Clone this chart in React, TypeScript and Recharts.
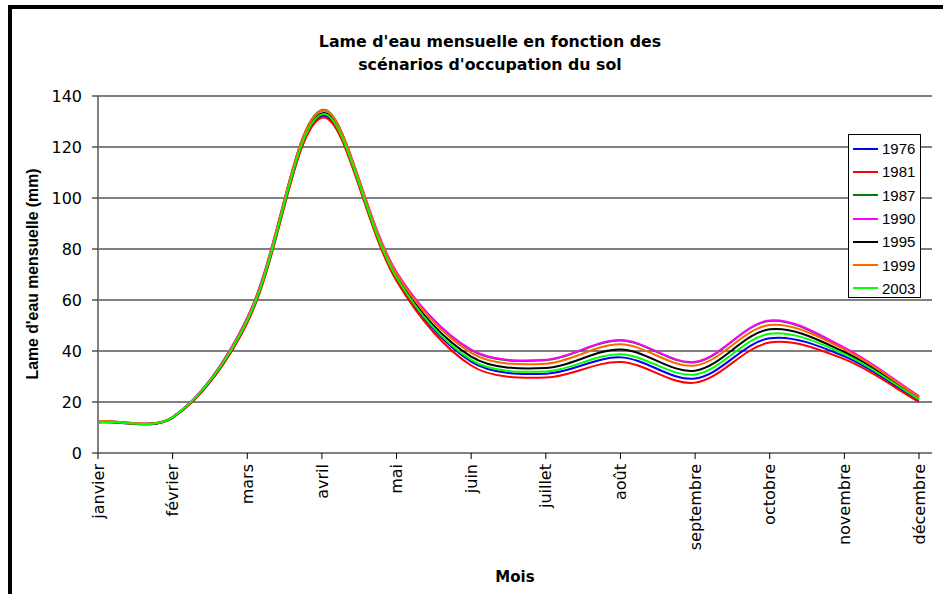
import { CartesianGrid, Line, LineChart, XAxis, YAxis } from 'recharts'

const MONTHS = [
  'janvier', 'février', 'mars', 'avril', 'mai', 'juin',
  'juillet', 'août', 'septembre', 'octobre', 'novembre', 'décembre',
]
const Y_TICKS = [0, 20, 40, 60, 80, 100, 120, 140]

const S1976 = [12.0, 13.9, 51.5, 132.2, 68.3, 35.8, 31.1, 37.5, 29.2, 45.0, 37.9, 20.5]
const S1981 = [12.2, 13.8, 51.0, 131.5, 67.5, 34.3, 29.6, 35.7, 27.6, 43.3, 36.8, 20.0]
const S1987 = [12.4, 14.1, 53.0, 134.5, 70.5, 40.3, 36.4, 44.1, 35.6, 51.8, 41.0, 22.1]
const S1990 = [12.4, 14.1, 53.0, 134.2, 71.0, 40.5, 36.6, 44.3, 35.8, 52.0, 41.3, 22.3]
const S1995 = [12.2, 14.0, 52.0, 133.2, 69.3, 37.8, 33.3, 40.6, 32.3, 48.5, 39.6, 21.3]
const S1999 = [12.5, 14.1, 52.5, 134.3, 70.3, 39.3, 35.0, 42.6, 34.3, 50.2, 40.6, 21.9]
const S2003 = [12.1, 14.0, 51.8, 132.8, 68.8, 36.5, 32.0, 38.7, 30.8, 46.8, 38.8, 21.0]

const SERIES = [
  { name: '1976', values: S1976, colour: '#0000ff' },
  { name: '1981', values: S1981, colour: '#ff0000' },
  { name: '1987', values: S1987, colour: '#008000' },
  { name: '1990', values: S1990, colour: '#ff00ff' },
  { name: '1995', values: S1995, colour: '#000000' },
  { name: '1999', values: S1999, colour: '#ff6600' },
  { name: '2003', values: S2003, colour: '#00ff00' },
]

const FONT = '"Liberation Sans", Arial, sans-serif'
const WIDE_FONT = '"DejaVu Sans", sans-serif'

// spreadsheet-style smoothed line: bezier whose handles are split by chord length
function smoothCurve(context: any) {
  let xs: number[] = []
  let ys: number[] = []
  const T = 1 / 3
  return {
    areaStart() {},
    areaEnd() {},
    lineStart() {
      xs = []
      ys = []
    },
    point(x: number, y: number) {
      xs.push(+x)
      ys.push(+y)
    },
    lineEnd() {
      const n = xs.length
      if (!n) return
      const dist = (i: number, j: number) => Math.hypot(xs[j] - xs[i], ys[j] - ys[i])
      // handles before/after each point
      const before: number[][] = []
      const after: number[][] = []
      for (let i = 0; i < n; i++) {
        const a = Math.max(i - 1, 0)
        const b = Math.min(i + 1, n - 1)
        const dA = dist(a, i)
        const dB = dist(i, b)
        const sum = dA + dB || 1
        const tx = xs[b] - xs[a]
        const ty = ys[b] - ys[a]
        const fa = (T * dA) / sum
        const fb = (T * dB) / sum
        before.push([xs[i] - fa * tx, ys[i] - fa * ty])
        after.push([xs[i] + fb * tx, ys[i] + fb * ty])
      }
      context.moveTo(xs[0], ys[0])
      for (let i = 0; i < n - 1; i++) {
        context.bezierCurveTo(after[i][0], after[i][1], before[i + 1][0], before[i + 1][1], xs[i + 1], ys[i + 1])
      }
    },
  }
}

function MonthTick({ x, y, payload }: any) {
  return (
    <g transform={`translate(${x},${y})`}>
      <text
        transform="rotate(-90)"
        textAnchor="end"
        dy="0.35em"
        fontSize={16}
        fontFamily={WIDE_FONT}
        fill="#000"
      >
        {payload.value}
      </text>
    </g>
  )
}

export default function App() {
  const data = MONTHS.map((month, i) => {
    const row: Record<string, string | number> = { month }
    SERIES.forEach((s) => {
      row[s.name] = s.values[i]
    })
    return row
  })

  return (
    <div
      style={{
        position: 'absolute',
        left: 0,
        top: 0,
        width: 943,
        height: 594,
        overflow: 'hidden',
        background: '#fff',
        fontFamily: FONT,
      }}
    >
      <div
        style={{
          position: 'absolute',
          left: 8,
          top: 5,
          width: 1200,
          height: 1200,
          borderTop: '4px solid #000',
          borderLeft: '4px solid #000',
        }}
      />
      <div
        style={{
          position: 'absolute',
          left: 240,
          top: 30,
          width: 500,
          textAlign: 'center',
          fontWeight: 'bold',
          fontSize: 15.8,
          lineHeight: '23px',
          fontFamily: WIDE_FONT,
          color: '#000',
        }}
      >
        Lame d'eau mensuelle en fonction des
        <br />
        scénarios d'occupation du sol
      </div>

      <div style={{ position: 'absolute', left: 0, top: 0 }}>
        <LineChart width={943} height={594} data={data} margin={{ top: 96, right: 11, bottom: 0, left: 38 }}>
          <CartesianGrid vertical={false} stroke="#000" strokeWidth={1} />
          <XAxis
            dataKey="month"
            interval={0}
            height={141}
            padding={{ left: 0, right: 13 }}
            axisLine={{ stroke: '#808080', strokeWidth: 2 }}
            tickLine={{ stroke: '#000' }}
            tickSize={6}
            tickMargin={5}
            tick={<MonthTick />}
          />
          <YAxis
            width={60}
            domain={[0, 140]}
            ticks={Y_TICKS}
            interval={0}
            axisLine={{ stroke: '#808080', strokeWidth: 2 }}
            tickLine={{ stroke: '#000' }}
            tickSize={6}
            tickMargin={10}
            tick={{ fontSize: 16, fontFamily: WIDE_FONT, fill: '#000' }}
          />
          {SERIES.map((s) => (
            <Line
              key={s.name}
              dataKey={s.name}
              type={smoothCurve as any}
              stroke={s.colour}
              strokeWidth={2}
              dot={false}
              activeDot={false}
              isAnimationActive={false}
            />
          ))}
        </LineChart>
      </div>

      <div
        style={{
          position: 'absolute',
          left: 33,
          top: 274,
          transform: 'translate(-50%, -50%) rotate(-90deg)',
          whiteSpace: 'nowrap',
          fontWeight: 'bold',
          fontSize: 15.8,
          color: '#000',
        }}
      >
        Lame d'eau mensuelle (mm)
      </div>
      <div
        style={{
          position: 'absolute',
          left: 515,
          top: 577,
          transform: 'translate(-50%, -50%)',
          fontWeight: 'bold',
          fontSize: 15,
          fontFamily: WIDE_FONT,
          color: '#000',
        }}
      >
        Mois
      </div>

      <div
        style={{
          position: 'absolute',
          left: 848,
          top: 134,
          width: 73,
          height: 164,
          border: '1px solid #000',
          background: '#fff',
          boxSizing: 'border-box',
          paddingTop: 2,
        }}
      >
        {SERIES.map((s) => (
          <div key={s.name} style={{ display: 'flex', alignItems: 'center', height: 23.3 }}>
            <div style={{ width: 25, height: 2, background: s.colour, marginLeft: 4, marginRight: 4 }} />
            <span style={{ fontSize: 15, color: '#000' }}>{s.name}</span>
          </div>
        ))}
      </div>
    </div>
  )
}
